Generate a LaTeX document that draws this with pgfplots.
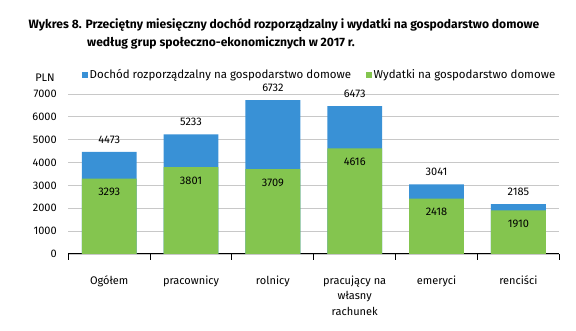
\documentclass[border=0pt]{standalone}
\usepackage{pgfplots}
\pgfplotsset{compat=1.18}
\usepackage{fontspec}
\setmainfont{Fira Sans}
\definecolor{cblue}{RGB}{57,145,214}
\definecolor{cgreen}{RGB}{132,197,79}
\definecolor{cgrid}{RGB}{200,200,200}
\begin{document}
\begin{tikzpicture}[x=1pt,y=1pt]
\useasboundingbox (0,0) rectangle (576,331);
\node[anchor=west,font=\bfseries\fontsize{12.1}{14}\selectfont,inner sep=0] at (28.5,306) {Wykres 8. Przeciętny miesięczny dochód rozporządzalny i wydatki na gospodarstwo domowe};
\node[anchor=west,font=\bfseries\fontsize{12.1}{14}\selectfont,inner sep=0] at (87,288.5) {według grup społeczno-ekonomicznych w 2017 r.};
\node[font=\fontsize{11}{13}\selectfont,inner sep=0] at (45,253) {PLN};
\begin{axis}[
  at={(68.3pt,77pt)}, anchor=south west,
  scale only axis, width=491pt, height=160pt,
  xmin=-0.5, xmax=5.5, ymin=0, ymax=7000,
  axis lines*=left,
  x axis line style={black, line width=1pt},
  y axis line style={draw=none},
  ytick={0,1000,...,7000},
  ymajorgrids, grid style={cgrid, line width=0.8pt},
  yticklabel style={font=\fontsize{11}{13}\selectfont, xshift=-8pt},
  /pgf/number format/assume math mode=true,
  /pgf/number format/1000 sep={},
  major tick length=0pt,
  xtick={0,...,5},
  xticklabels={Ogółem,pracownicy,rolnicy,{pracujący na\\własny\\rachunek},emeryci,renciści},
  xticklabel style={font=\fontsize{11}{15.8}\selectfont, align=center, yshift=-18pt},
  extra x ticks={-0.5,0.5,1.5,2.5,3.5,4.5,5.5},
  extra x tick labels={},
  extra x tick style={major tick length=6pt, tick style={black, line width=1pt}, tick align=outside, grid=none},
  bar width=0.67, 
  legend columns=2,
  legend style={at={(0.028,1.12)}, anchor=west, draw=none, fill=none, inner sep=0pt,
    font=\fontsize{11.5}{13}\selectfont, /tikz/every even column/.append style={column sep=13pt}},
  legend image code/.code={\fill[#1] (0pt,-3pt) rectangle (5.5pt,2.5pt);},
  clip=false,
]
\addplot[ybar, fill=cblue, draw=none, nodes near coords,
  every node near coord/.append style={font=\fontsize{11}{13}\selectfont, black, yshift=5pt},
  point meta=explicit symbolic]
  coordinates {(0,4473)[4473] (1,5233)[5233] (2,6732)[6732] (3,6473)[6473] (4,3041)[3041] (5,2185)[2185]};
\addlegendentry{Dochód rozporządzalny na gospodarstwo domowe}
\addplot[ybar, fill=cgreen, draw=none, nodes near coords,
  every node near coord/.append style={font=\fontsize{11}{13}\selectfont, black, anchor=north, yshift=-6pt},
  point meta=explicit symbolic]
  coordinates {(0,3293)[3293] (1,3801)[3801] (2,3709)[3709] (3,4616)[4616] (4,2418)[2418] (5,1910)[1910]};
\addlegendentry{Wydatki na gospodarstwo domowe}
\end{axis}
\end{tikzpicture}
\end{document}
